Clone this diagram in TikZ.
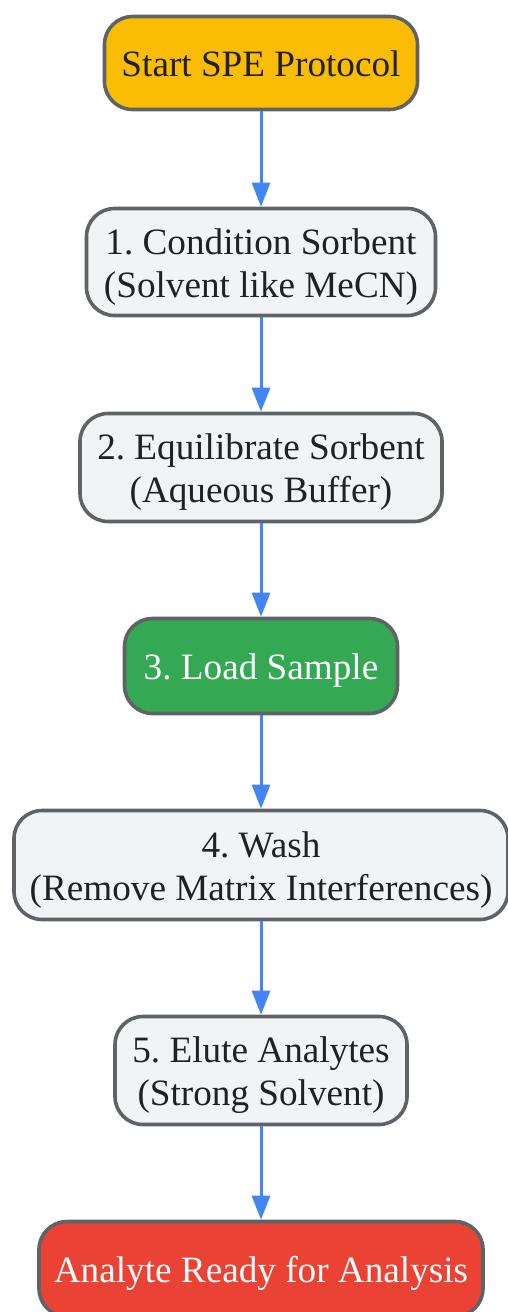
\documentclass[tikz,border=0pt]{standalone}
\usepackage{fontspec}
\setmainfont{Liberation Serif}
\usetikzlibrary{arrows.meta}
\frenchspacing
\definecolor{bordergrey}{HTML}{5F6368}
\definecolor{lightfill}{HTML}{F1F3F4}
\definecolor{txtdark}{HTML}{202124}
\definecolor{startyellow}{HTML}{FBBC04}
\definecolor{loadgreen}{HTML}{34A853}
\definecolor{endred}{HTML}{EA4335}
\definecolor{arrowblue}{HTML}{4285F4}
\tikzset{
  stepbox/.style={draw=bordergrey, line width=3.6pt, rounded corners=28pt,
    fill=lightfill, text=txtdark, align=center, inner sep=0pt,
    font=\fontsize{37.2}{43}\selectfont\frenchspacing},
  oneline/.style={text height=27pt, text depth=0pt},
  twoline/.style={text height=70pt, text depth=0pt},
  flowarrow/.style={draw=arrowblue, line width=3pt,
    -{Triangle[length=24pt,width=18pt]}}
}
\begin{document}
\begin{tikzpicture}[x=1pt,y=1pt]
\useasboundingbox (0,0) rectangle (508,-1312);
\node[stepbox, oneline, fill=startyellow, minimum width=313pt, minimum height=93pt] (start) at (261,-63) {Start SPE Protocol};
\node[stepbox, twoline, minimum width=349pt, minimum height=107pt] (s1) at (261,-262) {1. Condition Sorbent\\(Solvent like MeCN)};
\node[stepbox, twoline, minimum width=362pt, minimum height=108pt] (s2) at (261,-467.5) {2. Equilibrate Sorbent\\(Aqueous Buffer)};
\node[stepbox, oneline, fill=loadgreen, text=white, minimum width=273pt, minimum height=95pt] (s3) at (261,-666) {3. Load Sample};
\node[stepbox, twoline, minimum width=494pt, minimum height=109pt] (s4) at (261,-865) {4. Wash\\(Remove Matrix Interferences)};
\node[stepbox, twoline, minimum width=292pt, minimum height=108pt] (s5) at (261,-1070.5) {5. Elute Analytes\\(Strong Solvent)};
\node[stepbox, oneline, fill=endred, text=white, minimum width=444pt, minimum height=95pt] (end) at (261,-1269) {Analyte Ready for Analysis};
\draw[flowarrow] (start) -- (s1);
\draw[flowarrow] (s1) -- (s2);
\draw[flowarrow] (s2) -- (s3);
\draw[flowarrow] (s3) -- (s4);
\draw[flowarrow] (s4) -- (s5);
\draw[flowarrow] (s5) -- (end);
\end{tikzpicture}
\end{document}
